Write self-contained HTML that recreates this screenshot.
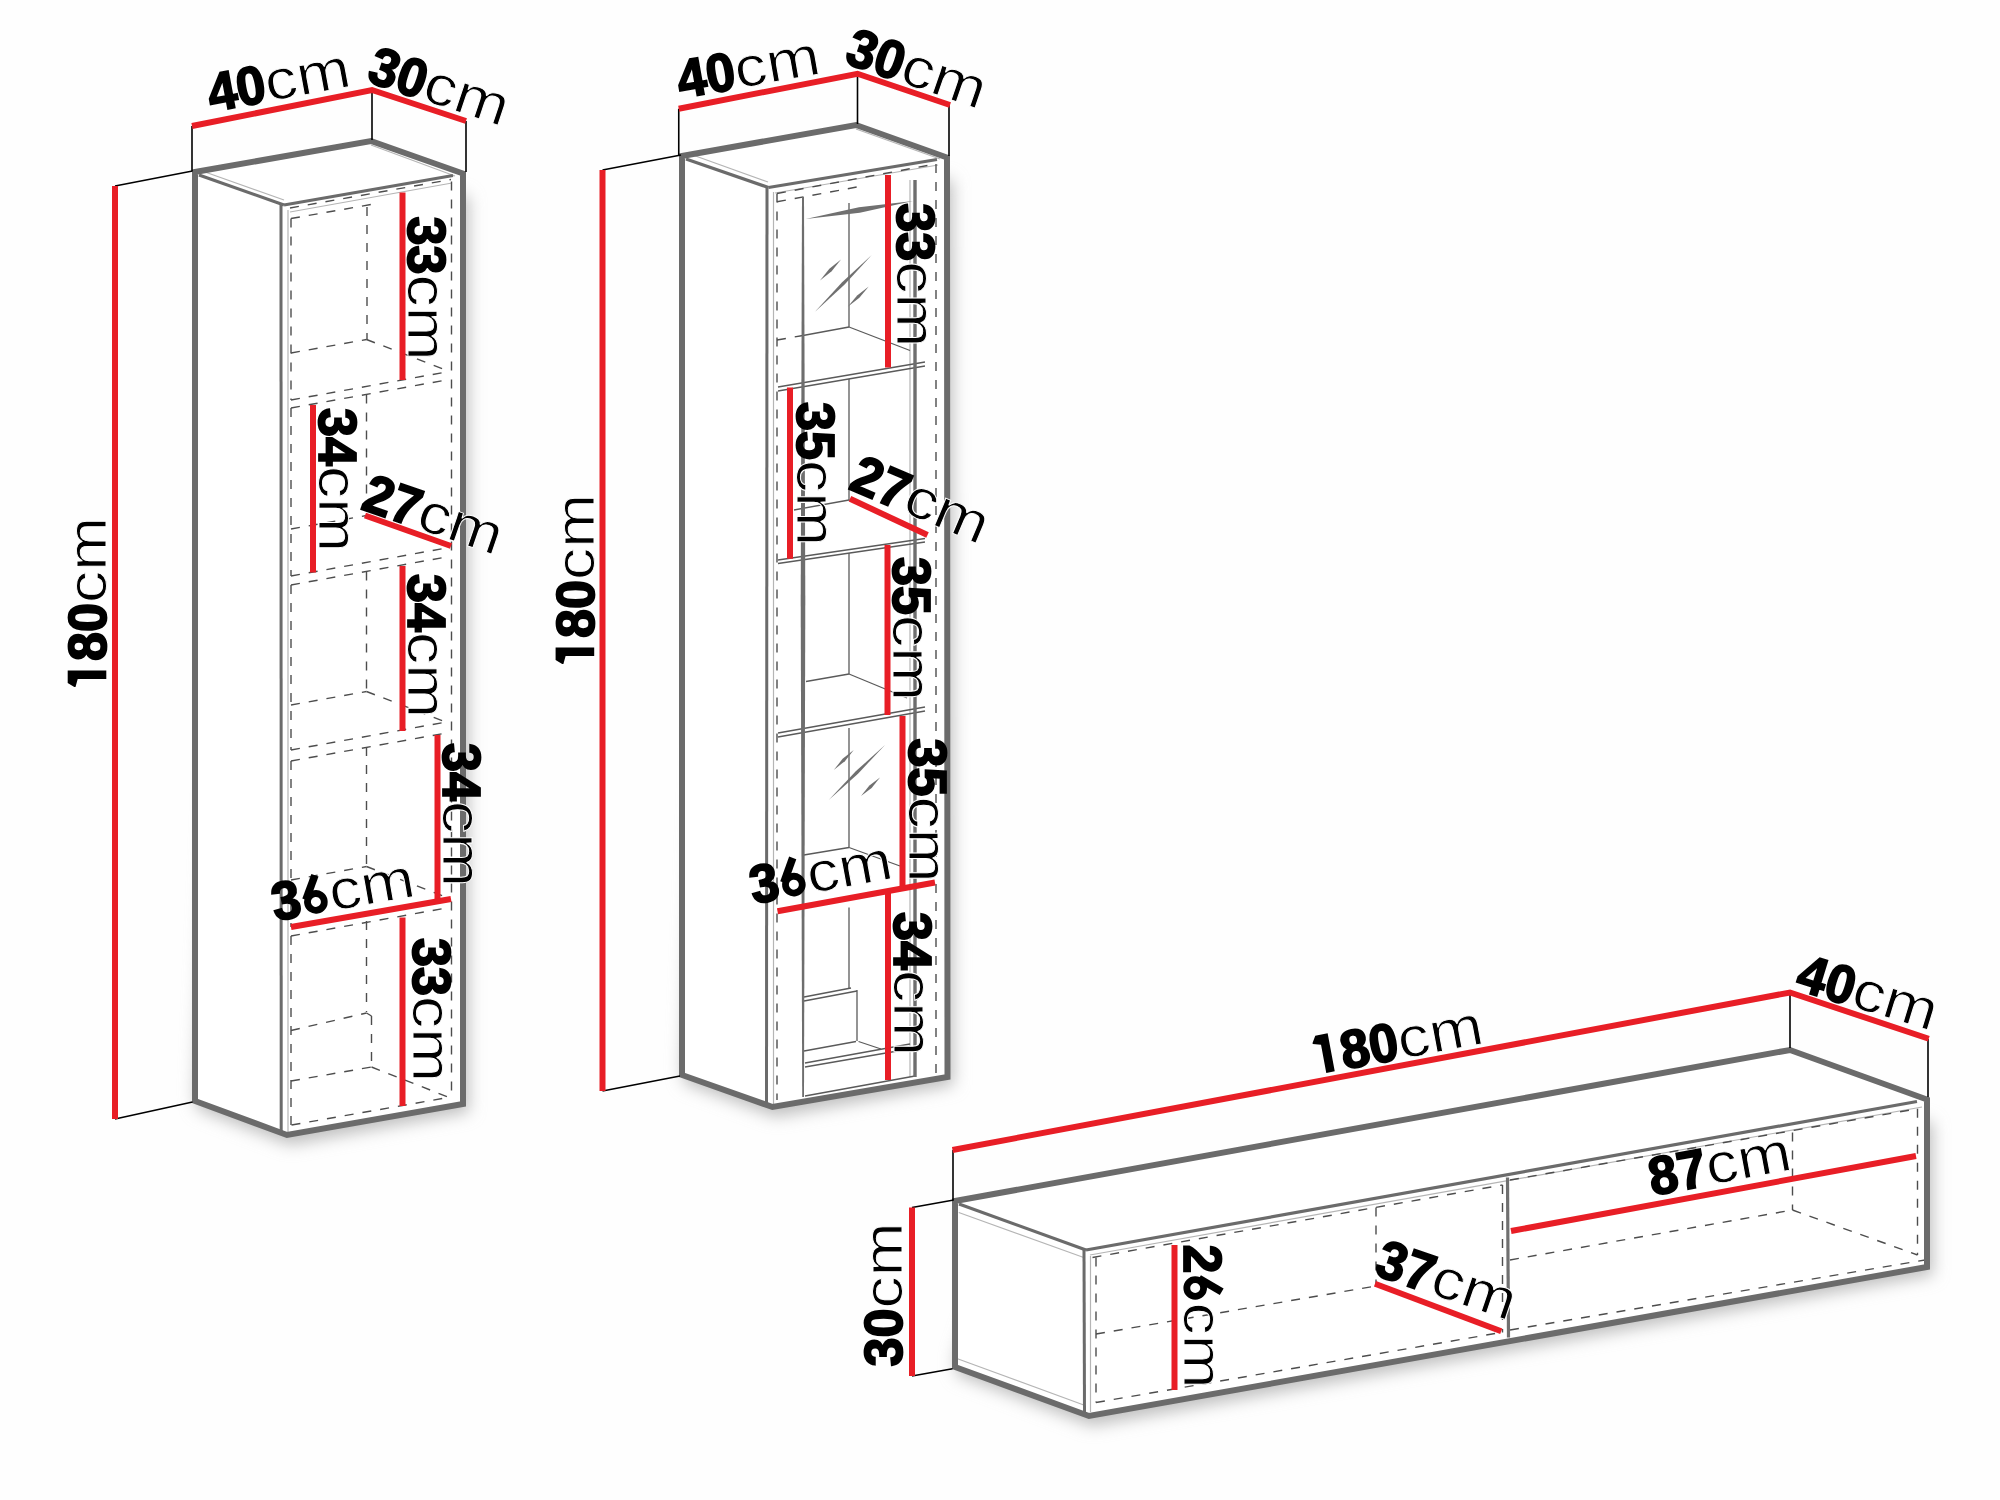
<!DOCTYPE html><html><head><meta charset="utf-8"><style>html,body{margin:0;padding:0;background:#fff;overflow:hidden;}svg{display:block;}text{font-family:"Liberation Sans",sans-serif;fill:#000;}</style></head><body>
<svg width="2000" height="1500" viewBox="0 0 2000 1500">
<defs><filter id="blur" x="-30%" y="-30%" width="160%" height="160%"><feGaussianBlur stdDeviation="8"/></filter></defs>
<rect width="2000" height="1500" fill="#fefefe"/>
<polygon points="457,193.5 469,197.5 469,1112 290,1145 197,1109 195,1091 235,212" fill="#c0c0c0" filter="url(#blur)"/>
<polygon points="941,177.5 953,181.5 953.5,1085 775.5,1117 684,1083 682,1065 722,196" fill="#c0c0c0" filter="url(#blur)"/>
<polygon points="1921,1119.5 1933,1123.5 1933,1275 1092,1426 957,1375 955,1357 995,1241" fill="#c0c0c0" filter="url(#blur)"/>
<polygon points="195,172 371,141 463,173.5 463,1104 287,1135 195,1101" fill="#ffffff"/>
<polygon points="682,156 856,125 947,157.5 947.5,1077 772.5,1107 682,1075" fill="#ffffff"/>
<polygon points="955,1201 1790,1050 1927,1099.5 1927,1267 1089,1416 955,1367" fill="#ffffff"/>
<g stroke="#b5b5b5" stroke-width="1.2" fill="none">
<line x1="205" y1="172" x2="284" y2="200"/>
<line x1="371" y1="145" x2="455" y2="176"/>
<line x1="288" y1="210" x2="288" y2="1132"/>
<line x1="290" y1="212" x2="452" y2="183"/>
<line x1="690" y1="154" x2="768" y2="182"/>
<line x1="856" y1="129" x2="940" y2="159"/>
<line x1="773.5" y1="192" x2="773.5" y2="1104"/>
<line x1="775" y1="193" x2="938" y2="165"/>
<line x1="910" y1="180" x2="910" y2="1077"/>
<line x1="958.75" y1="1212.5" x2="1083.75" y2="1257.5"/>
<line x1="957.5" y1="1358.75" x2="1083.75" y2="1405"/>
<line x1="1090.5" y1="1256" x2="1090.5" y2="1412"/>
<line x1="1090" y1="1255" x2="1922" y2="1107"/>
</g>
<g stroke="#4d4d4d" stroke-width="1.4" stroke-dasharray="9 9" fill="none">
<line x1="290" y1="208" x2="451" y2="179.5"/>
<line x1="291" y1="218.5" x2="371" y2="204.5"/>
<line x1="367" y1="207" x2="367" y2="340"/>
<line x1="291" y1="218.5" x2="291" y2="400"/>
<line x1="451.5" y1="181.5" x2="451.5" y2="1097"/>
<line x1="291" y1="353" x2="366.5" y2="339.5"/>
<line x1="366.5" y1="339.5" x2="447" y2="370.5"/>
<line x1="291" y1="400" x2="449" y2="371.5"/>
<line x1="291" y1="408" x2="449" y2="379.5"/>
<line x1="291" y1="529" x2="366.5" y2="515.5"/>
<line x1="366.5" y1="515.5" x2="447" y2="546.5"/>
<line x1="291" y1="576" x2="449" y2="547.5"/>
<line x1="291" y1="585" x2="449" y2="556.5"/>
<line x1="366.5" y1="394.5" x2="366.5" y2="515.5"/>
<line x1="291" y1="705" x2="366.5" y2="691.5"/>
<line x1="366.5" y1="691.5" x2="447" y2="722.5"/>
<line x1="291" y1="750" x2="449" y2="721.5"/>
<line x1="291" y1="761" x2="449" y2="732.5"/>
<line x1="366.5" y1="571.5" x2="366.5" y2="691.5"/>
<line x1="291" y1="880" x2="366.5" y2="866.5"/>
<line x1="366.5" y1="866.5" x2="447" y2="897.5"/>
<line x1="291" y1="927" x2="449" y2="898.5"/>
<line x1="291" y1="936" x2="449" y2="907.5"/>
<line x1="366.5" y1="747" x2="366.5" y2="866.5"/>
<line x1="291" y1="408" x2="291" y2="576"/>
<line x1="291" y1="585" x2="291" y2="750"/>
<line x1="291" y1="761" x2="291" y2="927"/>
<line x1="291" y1="936" x2="291" y2="1128"/>
<line x1="366.5" y1="921" x2="366.5" y2="1012"/>
<line x1="291" y1="1030.5" x2="366.5" y2="1013"/>
<line x1="366.5" y1="1013" x2="371.5" y2="1016"/>
<line x1="371.5" y1="1016" x2="371.5" y2="1067"/>
<line x1="291" y1="1081" x2="371.5" y2="1067"/>
<line x1="371.5" y1="1067" x2="448" y2="1097"/>
<line x1="291.5" y1="1125" x2="451" y2="1097"/>
<line x1="777" y1="193.5" x2="935.5" y2="164"/>
<line x1="777" y1="201.75" x2="857" y2="187"/>
<line x1="777" y1="193.5" x2="777" y2="1100"/>
<line x1="936" y1="164" x2="936" y2="1080"/>
<line x1="777" y1="340" x2="803" y2="335.5"/>
<line x1="1092.5" y1="1257.5" x2="1502.5" y2="1185"/>
<line x1="1096" y1="1257.5" x2="1096" y2="1402.5"/>
<line x1="1376" y1="1207.5" x2="1376" y2="1286"/>
<line x1="1096" y1="1334" x2="1376" y2="1286"/>
<line x1="1096" y1="1402.5" x2="1501" y2="1332.5"/>
<line x1="1502.5" y1="1185" x2="1502.5" y2="1332.5"/>
<line x1="1510" y1="1180" x2="1917.5" y2="1108.75"/>
<line x1="1917.5" y1="1108.75" x2="1917.5" y2="1255"/>
<line x1="1792.5" y1="1132.5" x2="1792.5" y2="1210"/>
<line x1="1510" y1="1260" x2="1792.5" y2="1210"/>
<line x1="1792.5" y1="1210" x2="1917.5" y2="1255"/>
<line x1="1510" y1="1330" x2="1925" y2="1260"/>
</g>
<g stroke="#5a5a5a" stroke-width="1.3" fill="none">
<line x1="849" y1="203" x2="849" y2="327"/>
<line x1="803" y1="335.5" x2="849" y2="327"/>
<line x1="849" y1="327" x2="910" y2="350.5"/>
<line x1="778" y1="387" x2="925" y2="362"/>
<line x1="778" y1="391" x2="925" y2="366"/>
<line x1="849" y1="379" x2="849" y2="500"/>
<line x1="794" y1="510" x2="849" y2="500"/>
<line x1="849" y1="500" x2="910" y2="525"/>
<line x1="778" y1="560" x2="925" y2="538.5"/>
<line x1="778" y1="563.5" x2="925" y2="542"/>
<line x1="849" y1="553" x2="849" y2="674"/>
<line x1="806" y1="681.5" x2="849" y2="674"/>
<line x1="849" y1="674" x2="907" y2="698"/>
<line x1="778" y1="733" x2="925" y2="707"/>
<line x1="778" y1="737" x2="925" y2="711"/>
<line x1="849" y1="728" x2="849" y2="847.5"/>
<line x1="803.75" y1="855" x2="849" y2="847.5"/>
<line x1="849" y1="847.5" x2="900" y2="866"/>
<line x1="849" y1="907.5" x2="849" y2="989"/>
<line x1="804" y1="997" x2="851" y2="988"/>
<line x1="804" y1="1001" x2="857" y2="991"/>
<line x1="857" y1="990" x2="857" y2="1041"/>
<line x1="804" y1="1051" x2="856" y2="1041.5"/>
<line x1="858.5" y1="1041.5" x2="881" y2="1049"/>
<line x1="805" y1="1063" x2="910" y2="1044"/>
<line x1="805" y1="1067" x2="915" y2="1048"/>
<line x1="805" y1="1096" x2="915" y2="1076"/>
</g>
<polygon points="820,280.5 831.63,271.13 841,259.5 829.37,268.87" fill="#707070"/>
<polygon points="814.75,312 844.38,284.63 871.75,255 842.12,282.37" fill="#707070"/>
<polygon points="847.75,306.75 859.36,297.78 868.75,286.5 857.14,295.47" fill="#707070"/>
<polygon points="833.75,770 844.88,761.13 853.75,750 842.62,758.87" fill="#707070"/>
<polygon points="828.75,800 857.99,773.64 885,745 855.76,771.36" fill="#707070"/>
<polygon points="861,796 871.62,787.9 880,777.5 869.38,785.6" fill="#707070"/>
<polygon points="805.75,219 859.83,212.71 913,201 858.92,207.29" fill="#707070"/>
<polygon points="195,172 371,141 463,173.5 463,1104 287,1135 195,1101" fill="none" stroke="#6b6b6b" stroke-width="6" stroke-linejoin="miter"/>
<line x1="199" y1="175" x2="284" y2="205" stroke="#6b6b6b" stroke-width="3.2" />
<line x1="284" y1="205" x2="453" y2="175.5" stroke="#6b6b6b" stroke-width="3.2" />
<line x1="281" y1="205" x2="281.2" y2="1133" stroke="#6b6b6b" stroke-width="3.0" />
<polygon points="682,156 856,125 947,157.5 947.5,1077 772.5,1107 682,1075" fill="none" stroke="#6b6b6b" stroke-width="6" stroke-linejoin="miter"/>
<line x1="686" y1="159" x2="768.5" y2="187.5" stroke="#6b6b6b" stroke-width="3.2" />
<line x1="768.5" y1="187.5" x2="937" y2="159.5" stroke="#6b6b6b" stroke-width="3.2" />
<line x1="767" y1="187.5" x2="766.5" y2="1105" stroke="#6b6b6b" stroke-width="3.0" />
<polygon points="955,1201 1790,1050 1927,1099.5 1927,1267 1089,1416 955,1367" fill="none" stroke="#6b6b6b" stroke-width="6" stroke-linejoin="miter"/>
<line x1="959" y1="1204" x2="1086" y2="1250" stroke="#6b6b6b" stroke-width="3.2" />
<line x1="1086" y1="1250" x2="1917" y2="1101.5" stroke="#6b6b6b" stroke-width="3.2" />
<line x1="1084" y1="1250" x2="1084.5" y2="1414" stroke="#6b6b6b" stroke-width="3.0" />
<polygon points="802,197 804,197 805.3,600 804,1097 802.2,1097 800.7,600" fill="#6e6e6e"/>
<line x1="915" y1="180" x2="915" y2="1077" stroke="#6e6e6e" stroke-width="3.4" />
<line x1="1507.5" y1="1177.5" x2="1508.5" y2="1337.5" stroke="#707070" stroke-width="3.2" />
<g stroke="#000" stroke-width="1.6">
<line x1="115" y1="186" x2="192.5" y2="171"/>
<line x1="115" y1="1119" x2="192.5" y2="1102"/>
<line x1="192" y1="126" x2="192" y2="171"/>
<line x1="372" y1="90" x2="372" y2="140"/>
<line x1="466" y1="121" x2="466" y2="172"/>
<line x1="602.5" y1="170" x2="681" y2="155"/>
<line x1="602.5" y1="1091" x2="680" y2="1076"/>
<line x1="678.75" y1="108.75" x2="678.75" y2="155"/>
<line x1="857.5" y1="73.75" x2="857.5" y2="124"/>
<line x1="949" y1="105" x2="949" y2="156"/>
<line x1="953" y1="1150" x2="953" y2="1200"/>
<line x1="1790" y1="992.5" x2="1790" y2="1048"/>
<line x1="1928" y1="1039" x2="1928" y2="1097"/>
<line x1="912" y1="1207.5" x2="953.75" y2="1200"/>
<line x1="912" y1="1376" x2="952.5" y2="1368.75"/>
</g>
<g stroke="#e81e26" stroke-width="6" fill="none">
<line x1="115" y1="186" x2="115" y2="1119"/>
<polyline points="192,126 372,90 466,121" fill="none" stroke="#e81e26" stroke-width="6" />
<line x1="402.5" y1="192.5" x2="402.5" y2="380"/>
<line x1="313" y1="405" x2="313" y2="572.5"/>
<line x1="365" y1="515.5" x2="451" y2="546"/>
<line x1="402.5" y1="566" x2="402.5" y2="731"/>
<line x1="437.5" y1="735" x2="437.5" y2="900"/>
<line x1="291" y1="927" x2="451" y2="899"/>
<line x1="402.5" y1="917.5" x2="402.5" y2="1106"/>
<line x1="602.5" y1="170" x2="602.5" y2="1091"/>
<polyline points="678.75,108.75 857.5,73.75 950,105" fill="none" stroke="#e81e26" stroke-width="6" />
<line x1="888" y1="175" x2="888" y2="367.5"/>
<line x1="790" y1="387.5" x2="790" y2="558.75"/>
<line x1="850" y1="498.75" x2="927.5" y2="535"/>
<line x1="887.5" y1="545" x2="887.5" y2="715"/>
<line x1="902.5" y1="716" x2="902.5" y2="886"/>
<line x1="777.5" y1="911.3" x2="935" y2="882.5"/>
<line x1="888" y1="893" x2="888" y2="1080"/>
<polyline points="952.5,1150 1790,992.5 1928.75,1038.75" fill="none" stroke="#e81e26" stroke-width="6" />
<line x1="912" y1="1207.5" x2="912" y2="1376"/>
<line x1="1174.5" y1="1245" x2="1174.5" y2="1390"/>
<line x1="1511" y1="1231" x2="1916" y2="1156"/>
<line x1="1375" y1="1283.75" x2="1501.25" y2="1331.25"/>
</g>
<g transform="translate(282,99) rotate(-10.5)"><text x="-72" y="0" font-size="54" font-weight="bold" stroke="#000" stroke-width="1.8" textLength="29" lengthAdjust="spacingAndGlyphs">4</text><text x="-43" y="0" font-size="54" font-weight="bold" stroke="#000" stroke-width="1.8" textLength="29" lengthAdjust="spacingAndGlyphs">0</text><text x="-14" y="0" font-size="56" stroke="#fff" stroke-width="0.9" textLength="86" lengthAdjust="spacingAndGlyphs">cm</text></g>
<g transform="translate(433.6,103.8) rotate(18.5)"><text x="-72" y="0" font-size="54" font-weight="bold" stroke="#000" stroke-width="1.8" textLength="29" lengthAdjust="spacingAndGlyphs">3</text><text x="-43" y="0" font-size="54" font-weight="bold" stroke="#000" stroke-width="1.8" textLength="29" lengthAdjust="spacingAndGlyphs">0</text><text x="-14" y="0" font-size="56" stroke="#fff" stroke-width="0.9" textLength="86" lengthAdjust="spacingAndGlyphs">cm</text></g>
<g transform="translate(106.3,603.5) rotate(-90)"><path d="M-66.9,-38.6 V0 H-75.5 V-28.6 L-83.5,-30.8 L-83.5,-32 L-79.5,-38.6 Z" fill="#000"/><text x="-57.5" y="0" font-size="54" font-weight="bold" stroke="#000" stroke-width="1.8" textLength="29" lengthAdjust="spacingAndGlyphs">8</text><text x="-28.5" y="0" font-size="54" font-weight="bold" stroke="#000" stroke-width="1.8" textLength="29" lengthAdjust="spacingAndGlyphs">0</text><text x="0.5" y="0" font-size="56" stroke="#fff" stroke-width="0.9" textLength="86" lengthAdjust="spacingAndGlyphs">cm</text></g>
<g transform="translate(407.5,288.5) rotate(90)"><text x="-72" y="0" font-size="54" font-weight="bold" stroke="#000" stroke-width="1.8" textLength="29" lengthAdjust="spacingAndGlyphs">3</text><text x="-43" y="0" font-size="54" font-weight="bold" stroke="#000" stroke-width="1.8" textLength="29" lengthAdjust="spacingAndGlyphs">3</text><text x="-14" y="0" font-size="56" stroke="#fff" stroke-width="0.9" textLength="86" lengthAdjust="spacingAndGlyphs">cm</text></g>
<g transform="translate(318.5,480) rotate(90)"><text x="-72" y="0" font-size="54" font-weight="bold" stroke="#000" stroke-width="1.8" textLength="29" lengthAdjust="spacingAndGlyphs">3</text><text x="-43" y="0" font-size="54" font-weight="bold" stroke="#000" stroke-width="1.8" textLength="29" lengthAdjust="spacingAndGlyphs">4</text><text x="-14" y="0" font-size="56" stroke="#fff" stroke-width="0.9" textLength="86" lengthAdjust="spacingAndGlyphs">cm</text></g>
<g transform="translate(427.5,532) rotate(19)"><text x="-72" y="0" font-size="54" font-weight="bold" stroke="#000" stroke-width="1.8" textLength="29" lengthAdjust="spacingAndGlyphs">2</text><text x="-43" y="0" font-size="54" font-weight="bold" stroke="#000" stroke-width="1.8" textLength="29" lengthAdjust="spacingAndGlyphs">7</text><text x="-14" y="0" font-size="56" stroke="#fff" stroke-width="0.9" textLength="86" lengthAdjust="spacingAndGlyphs">cm</text></g>
<g transform="translate(407.5,646) rotate(90)"><text x="-72" y="0" font-size="54" font-weight="bold" stroke="#000" stroke-width="1.8" textLength="29" lengthAdjust="spacingAndGlyphs">3</text><text x="-43" y="0" font-size="54" font-weight="bold" stroke="#000" stroke-width="1.8" textLength="29" lengthAdjust="spacingAndGlyphs">4</text><text x="-14" y="0" font-size="56" stroke="#fff" stroke-width="0.9" textLength="86" lengthAdjust="spacingAndGlyphs">cm</text></g>
<g transform="translate(443,815) rotate(90)"><text x="-72" y="0" font-size="54" font-weight="bold" stroke="#000" stroke-width="1.8" textLength="29" lengthAdjust="spacingAndGlyphs">3</text><text x="-43" y="0" font-size="54" font-weight="bold" stroke="#000" stroke-width="1.8" textLength="29" lengthAdjust="spacingAndGlyphs">4</text><text x="-14" y="0" font-size="56" stroke="#fff" stroke-width="0.9" textLength="86" lengthAdjust="spacingAndGlyphs">cm</text></g>
<g transform="translate(346,908.5) rotate(-10)"><text x="-72" y="0" font-size="54" font-weight="bold" stroke="#000" stroke-width="1.8" textLength="29" lengthAdjust="spacingAndGlyphs">3</text><circle cx="-28.5" cy="-11.7" r="8.4" fill="none" stroke="#000" stroke-width="6.8"/><line x1="-38" y1="-15.5" x2="-24.8" y2="-38.2" stroke="#000" stroke-width="7.6"/><text x="-14" y="0" font-size="56" stroke="#fff" stroke-width="0.9" textLength="86" lengthAdjust="spacingAndGlyphs">cm</text></g>
<g transform="translate(412.5,1010) rotate(90)"><text x="-72" y="0" font-size="54" font-weight="bold" stroke="#000" stroke-width="1.8" textLength="29" lengthAdjust="spacingAndGlyphs">3</text><text x="-43" y="0" font-size="54" font-weight="bold" stroke="#000" stroke-width="1.8" textLength="29" lengthAdjust="spacingAndGlyphs">3</text><text x="-14" y="0" font-size="56" stroke="#fff" stroke-width="0.9" textLength="86" lengthAdjust="spacingAndGlyphs">cm</text></g>
<g transform="translate(751.5,86) rotate(-10)"><text x="-72" y="0" font-size="54" font-weight="bold" stroke="#000" stroke-width="1.8" textLength="29" lengthAdjust="spacingAndGlyphs">4</text><text x="-43" y="0" font-size="54" font-weight="bold" stroke="#000" stroke-width="1.8" textLength="29" lengthAdjust="spacingAndGlyphs">0</text><text x="-14" y="0" font-size="56" stroke="#fff" stroke-width="0.9" textLength="86" lengthAdjust="spacingAndGlyphs">cm</text></g>
<g transform="translate(911,86) rotate(19)"><text x="-72" y="0" font-size="54" font-weight="bold" stroke="#000" stroke-width="1.8" textLength="29" lengthAdjust="spacingAndGlyphs">3</text><text x="-43" y="0" font-size="54" font-weight="bold" stroke="#000" stroke-width="1.8" textLength="29" lengthAdjust="spacingAndGlyphs">0</text><text x="-14" y="0" font-size="56" stroke="#fff" stroke-width="0.9" textLength="86" lengthAdjust="spacingAndGlyphs">cm</text></g>
<g transform="translate(594.2,580.6) rotate(-90)"><path d="M-66.9,-38.6 V0 H-75.5 V-28.6 L-83.5,-30.8 L-83.5,-32 L-79.5,-38.6 Z" fill="#000"/><text x="-57.5" y="0" font-size="54" font-weight="bold" stroke="#000" stroke-width="1.8" textLength="29" lengthAdjust="spacingAndGlyphs">8</text><text x="-28.5" y="0" font-size="54" font-weight="bold" stroke="#000" stroke-width="1.8" textLength="29" lengthAdjust="spacingAndGlyphs">0</text><text x="0.5" y="0" font-size="56" stroke="#fff" stroke-width="0.9" textLength="86" lengthAdjust="spacingAndGlyphs">cm</text></g>
<g transform="translate(896.7,275.25) rotate(90)"><text x="-72" y="0" font-size="54" font-weight="bold" stroke="#000" stroke-width="1.8" textLength="29" lengthAdjust="spacingAndGlyphs">3</text><text x="-43" y="0" font-size="54" font-weight="bold" stroke="#000" stroke-width="1.8" textLength="29" lengthAdjust="spacingAndGlyphs">3</text><text x="-14" y="0" font-size="56" stroke="#fff" stroke-width="0.9" textLength="86" lengthAdjust="spacingAndGlyphs">cm</text></g>
<g transform="translate(797.2,474) rotate(90)"><text x="-72" y="0" font-size="54" font-weight="bold" stroke="#000" stroke-width="1.8" textLength="29" lengthAdjust="spacingAndGlyphs">3</text><text x="-43" y="0" font-size="54" font-weight="bold" stroke="#000" stroke-width="1.8" textLength="29" lengthAdjust="spacingAndGlyphs">5</text><text x="-14" y="0" font-size="56" stroke="#fff" stroke-width="0.9" textLength="86" lengthAdjust="spacingAndGlyphs">cm</text></g>
<g transform="translate(913.5,516.5) rotate(23)"><text x="-72" y="0" font-size="54" font-weight="bold" stroke="#000" stroke-width="1.8" textLength="29" lengthAdjust="spacingAndGlyphs">2</text><text x="-43" y="0" font-size="54" font-weight="bold" stroke="#000" stroke-width="1.8" textLength="29" lengthAdjust="spacingAndGlyphs">7</text><text x="-14" y="0" font-size="56" stroke="#fff" stroke-width="0.9" textLength="86" lengthAdjust="spacingAndGlyphs">cm</text></g>
<g transform="translate(893,629) rotate(90)"><text x="-72" y="0" font-size="54" font-weight="bold" stroke="#000" stroke-width="1.8" textLength="29" lengthAdjust="spacingAndGlyphs">3</text><text x="-43" y="0" font-size="54" font-weight="bold" stroke="#000" stroke-width="1.8" textLength="29" lengthAdjust="spacingAndGlyphs">5</text><text x="-14" y="0" font-size="56" stroke="#fff" stroke-width="0.9" textLength="86" lengthAdjust="spacingAndGlyphs">cm</text></g>
<g transform="translate(909.25,810.5) rotate(90)"><text x="-72" y="0" font-size="54" font-weight="bold" stroke="#000" stroke-width="1.8" textLength="29" lengthAdjust="spacingAndGlyphs">3</text><text x="-43" y="0" font-size="54" font-weight="bold" stroke="#000" stroke-width="1.8" textLength="29" lengthAdjust="spacingAndGlyphs">5</text><text x="-14" y="0" font-size="56" stroke="#fff" stroke-width="0.9" textLength="86" lengthAdjust="spacingAndGlyphs">cm</text></g>
<g transform="translate(824,891) rotate(-10.4)"><text x="-72" y="0" font-size="54" font-weight="bold" stroke="#000" stroke-width="1.8" textLength="29" lengthAdjust="spacingAndGlyphs">3</text><circle cx="-28.5" cy="-11.7" r="8.4" fill="none" stroke="#000" stroke-width="6.8"/><line x1="-38" y1="-15.5" x2="-24.8" y2="-38.2" stroke="#000" stroke-width="7.6"/><text x="-14" y="0" font-size="56" stroke="#fff" stroke-width="0.9" textLength="86" lengthAdjust="spacingAndGlyphs">cm</text></g>
<g transform="translate(894.25,984) rotate(90)"><text x="-72" y="0" font-size="54" font-weight="bold" stroke="#000" stroke-width="1.8" textLength="29" lengthAdjust="spacingAndGlyphs">3</text><text x="-43" y="0" font-size="54" font-weight="bold" stroke="#000" stroke-width="1.8" textLength="29" lengthAdjust="spacingAndGlyphs">4</text><text x="-14" y="0" font-size="56" stroke="#fff" stroke-width="0.9" textLength="86" lengthAdjust="spacingAndGlyphs">cm</text></g>
<g transform="translate(1400.5,1059) rotate(-10.6)"><path d="M-66.9,-38.6 V0 H-75.5 V-28.6 L-83.5,-30.8 L-83.5,-32 L-79.5,-38.6 Z" fill="#000"/><text x="-57.5" y="0" font-size="54" font-weight="bold" stroke="#000" stroke-width="1.8" textLength="29" lengthAdjust="spacingAndGlyphs">8</text><text x="-28.5" y="0" font-size="54" font-weight="bold" stroke="#000" stroke-width="1.8" textLength="29" lengthAdjust="spacingAndGlyphs">0</text><text x="0.5" y="0" font-size="56" stroke="#fff" stroke-width="0.9" textLength="86" lengthAdjust="spacingAndGlyphs">cm</text></g>
<g transform="translate(1862.5,1010) rotate(17)"><text x="-72" y="0" font-size="54" font-weight="bold" stroke="#000" stroke-width="1.8" textLength="29" lengthAdjust="spacingAndGlyphs">4</text><text x="-43" y="0" font-size="54" font-weight="bold" stroke="#000" stroke-width="1.8" textLength="29" lengthAdjust="spacingAndGlyphs">0</text><text x="-14" y="0" font-size="56" stroke="#fff" stroke-width="0.9" textLength="86" lengthAdjust="spacingAndGlyphs">cm</text></g>
<g transform="translate(901.9,1294.5) rotate(-90)"><text x="-72" y="0" font-size="54" font-weight="bold" stroke="#000" stroke-width="1.8" textLength="29" lengthAdjust="spacingAndGlyphs">3</text><text x="-43" y="0" font-size="54" font-weight="bold" stroke="#000" stroke-width="1.8" textLength="29" lengthAdjust="spacingAndGlyphs">0</text><text x="-14" y="0" font-size="56" stroke="#fff" stroke-width="0.9" textLength="86" lengthAdjust="spacingAndGlyphs">cm</text></g>
<g transform="translate(1183.5,1316.5) rotate(90)"><text x="-72" y="0" font-size="54" font-weight="bold" stroke="#000" stroke-width="1.8" textLength="29" lengthAdjust="spacingAndGlyphs">2</text><circle cx="-28.5" cy="-11.7" r="8.4" fill="none" stroke="#000" stroke-width="6.8"/><line x1="-38" y1="-15.5" x2="-24.8" y2="-38.2" stroke="#000" stroke-width="7.6"/><text x="-14" y="0" font-size="56" stroke="#fff" stroke-width="0.9" textLength="86" lengthAdjust="spacingAndGlyphs">cm</text></g>
<g transform="translate(1723,1182.5) rotate(-10.6)"><text x="-72" y="0" font-size="54" font-weight="bold" stroke="#000" stroke-width="1.8" textLength="29" lengthAdjust="spacingAndGlyphs">8</text><text x="-43" y="0" font-size="54" font-weight="bold" stroke="#000" stroke-width="1.8" textLength="29" lengthAdjust="spacingAndGlyphs">7</text><text x="-14" y="0" font-size="56" stroke="#fff" stroke-width="0.9" textLength="86" lengthAdjust="spacingAndGlyphs">cm</text></g>
<g transform="translate(1441,1297.5) rotate(18.8)"><text x="-72" y="0" font-size="54" font-weight="bold" stroke="#000" stroke-width="1.8" textLength="29" lengthAdjust="spacingAndGlyphs">3</text><text x="-43" y="0" font-size="54" font-weight="bold" stroke="#000" stroke-width="1.8" textLength="29" lengthAdjust="spacingAndGlyphs">7</text><text x="-14" y="0" font-size="56" stroke="#fff" stroke-width="0.9" textLength="86" lengthAdjust="spacingAndGlyphs">cm</text></g>
</svg></body></html>
